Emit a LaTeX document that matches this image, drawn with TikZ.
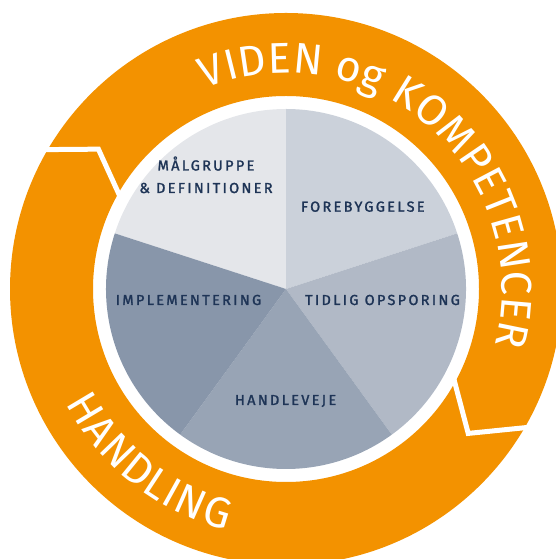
\documentclass[tikz,border=0pt]{standalone}
\usepackage{fontspec}
\usetikzlibrary{decorations.text}
\newfontfamily\labfont{Fira Sans}[LetterSpace=16, FakeBold=1.6]
\newfontfamily\ringfont{Fira Sans}
\definecolor{ringorange}{HTML}{F39200}
\definecolor{navy}{HTML}{1E3456}
\definecolor{sA}{HTML}{E4E6EA}
\definecolor{sB}{HTML}{CBD1DA}
\definecolor{sC}{HTML}{B1B9C6}
\definecolor{sD}{HTML}{98A4B5}
\definecolor{sE}{HTML}{8896AA}
\begin{document}
\begin{tikzpicture}[x=1pt,y=1pt,
  lab/.style={font=\labfont\fontsize{14.5}{22.5}\selectfont, text=navy, anchor=base, inner sep=0pt, align=center},
  gapline/.style={draw=white, line width=5pt, line join=miter},
  ringtext/.style={decorate, decoration={text along path, text color=white, text align=fit to path, text={#1}}}]
\useasboundingbox (0,0) rectangle (556,559);
\clip (0,0) rectangle (556,559);
\begin{scope}[shift={(286,270)}]
  % orange ring
  \fill[ringorange, even odd rule] (0,0) circle[radius=276pt] (0,0) circle[radius=193pt];
  % chevron gaps
  \draw[gapline] (151.3:290pt) -- (143.3:234pt) -- (151.8:186pt);
  \draw[gapline] (-26.7:186pt) -- (-38.4:232.5pt) -- (-28.2:290pt);
  % pie slices
  \fill[sA] (0,0) -- (90:180pt) arc[start angle=90, end angle=162, radius=180pt] -- cycle;
  \fill[sB] (0,0) -- (18:180pt) arc[start angle=18, end angle=90, radius=180pt] -- cycle;
  \fill[sC] (0,0) -- (-54:180pt) arc[start angle=-54, end angle=18, radius=180pt] -- cycle;
  \fill[sD] (0,0) -- (-126:180pt) arc[start angle=-126, end angle=-54, radius=180pt] -- cycle;
  \fill[sE] (0,0) -- (162:180pt) arc[start angle=162, end angle=234, radius=180pt] -- cycle;
  % labels
  \node[lab] (malgruppe) at (-80,96) {MÅLGRUPPE\\\& DEFINITIONER};
  \node[lab] (forebyg) at (76.8,77.3) {FOREBYGGELSE};
  \node[lab] (tidlig) at (96.5,-16) {TIDLIG OPSPORING};
  \node[lab] (impl) at (-97.5,-16) {IMPLEMENTERING};
  \node[lab] (handlev) at (-0.4,-116) {HANDLEVEJE};
  % ring texts
  \path[ringtext={|\ringfont\fontsize{43}{43}\selectfont|VIDEN og KOMPETENCER}]
    (112:216pt) arc[start angle=112, end angle=-15, radius=216pt];
  \path[ringtext={|\ringfont\fontsize{43}{43}\selectfont|HANDLING}]
    (207.5:248pt) arc[start angle=207.5, end angle=256, radius=248pt];
\end{scope}
\end{tikzpicture}
\end{document}
